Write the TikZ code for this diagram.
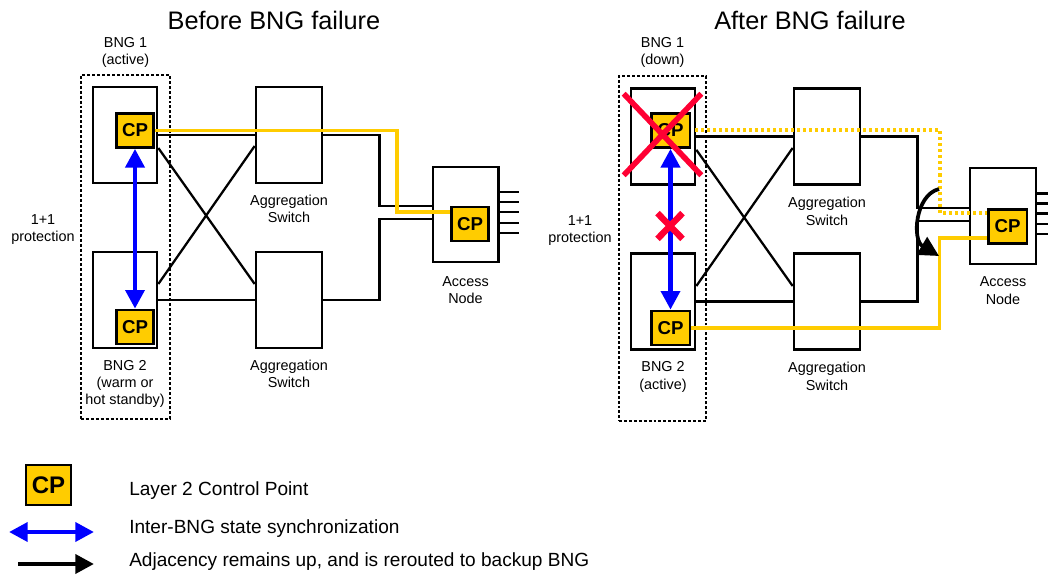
\documentclass[tikz,border=0pt]{standalone}
\usepackage{fontspec}
\setmainfont{Liberation Sans}
\usetikzlibrary{arrows.meta, positioning, shapes.misc}

\begin{document}
\begin{tikzpicture}[
      x=0.75pt, y=-0.75pt,
      node distance=8pt,
      box/.style={draw, line width=2pt, fill=white, inner sep=0pt},
      bng/.style={box, minimum width=48pt, minimum height=72pt},
      agg/.style={box, minimum width=49.5pt, minimum height=72pt},
      cp/.style={draw, line width=2pt, fill=cpyellow, inner sep=0pt, minimum width=27.75pt,
                 minimum height=25.5pt, font=\fontsize{14}{16}\selectfont\bfseries},
      group/.style={draw, line width=2.2pt, dash pattern=on 2.2pt off 1.5pt, inner sep=0pt},
      lbl/.style={inner sep=0pt, align=center, font=\fontsize{10.8}{12.8}\selectfont},
      rlbl/.style={lbl, font=\fontsize{10.8}{13.5}\selectfont},
      title/.style={inner sep=0pt, font=\fontsize{19}{22}\selectfont},
      legtext/.style={inner sep=0pt, anchor=west, font=\fontsize{14.3}{17}\selectfont},
      link/.style={line width=2pt},
      thin link/.style={line width=1.7pt},
      sync/.style={draw=syncblue, line width=3.4pt, {Triangle[length=14pt, width=14pt]}-{Triangle[length=14pt, width=14pt]}},
      cpline/.style={draw=cpyellow, line width=2.5pt},
      cpdots/.style={cpline, line width=3pt, dash pattern=on 2.25pt off 2.25pt},
      kill/.style={cross out, draw=killred, inner sep=0pt}
    ]
    \definecolor{cpyellow}{HTML}{FFCC00}
    \definecolor{syncblue}{HTML}{0000FF}
    \definecolor{killred}{HTML}{FF0033}
    \useasboundingbox (0,0) rectangle (1048,574);

    \node[title] (tbefore) at (274,20) {Before BNG failure};
    \node[group, minimum width=66.75pt, minimum height=258pt] (grp) at (125.5,247) {};
    \node[bng] (bnga) at (125,135) {};
    \node[bng] (bngb) at (125,300) {};
    \node[agg] (agga) at (289,135) {};
    \node[agg] (aggb) at (289,300) {};
    \node[bng, minimum width=49pt, minimum height=71.25pt] (acc) at (465.5,214.5) {};
    \draw[link] (bnga.east) -- (agga.west);
    \draw[link] (bngb.east) -- (aggb.west);
    \draw[thin link] ([yshift=-9.75pt]bnga.east) -- ([yshift=12pt]aggb.west);
    \draw[thin link] ([yshift=12pt]bngb.east) -- ([yshift=-8.25pt]agga.west);
    \draw[link] (agga.east) -- ++(56,0) |- ([yshift=6.4pt]acc.west);
    \draw[link] (aggb.east) -- ++(56,0) |- ([yshift=-3.4pt]acc.west);
    \foreach \dy in {16.9,9.4,1.9,-6.4,-13.9}
      \draw[link] ([yshift=\dy pt]acc.east) -- ++(19,0);
    \node[cp] (cpa) at (135,130.5) {CP};
    \node[cp] (cpb) at (135,327) {CP};
    \node[cp] (cpc) at (470,224) {CP};
    \draw[cpline] (cpa.east) -- ++(242,0) |- ([yshift=9pt]cpc.west);
    \draw[sync] (cpa) -- (cpb);
    \node[lbl, above=4.5pt of grp] (lbnga) {BNG 1\\(active)};
    \node[lbl, below=8pt of bngb] (lbngb) {BNG 2\\(warm or\\hot standby)};
    \node[lbl, below=of agga] (lagga) {Aggregation\\Switch};
    \node[lbl, below=of aggb] (laggb) {Aggregation\\Switch};
    \node[lbl, below=9.5pt of acc] (lacc) {Access\\Node};
    \node[lbl] (lprot) at (43,230) {1+1\\protection};

    \node[title] (tafter) at (810,20) {After BNG failure};
    \node[group, minimum width=65.25pt, minimum height=258.75pt] (rgrp) at (662.5,248.5) {};
    \node[bng] (rbnga) at (663,136.5) {};
    \node[bng] (rbngb) at (663,301.5) {};
    \node[agg] (ragga) at (827,136.5) {};
    \node[agg] (raggb) at (827,301.5) {};
    \node[bng, minimum width=49.5pt, minimum height=72pt] (racc) at (1003,216) {};
    \draw[link] (rbnga.east) -- (ragga.west);
    \draw[link] (rbngb.east) -- (raggb.west);
    \draw[thin link] ([yshift=-10pt]rbnga.east) -- ([yshift=11.6pt]raggb.west);
    \draw[thin link] ([yshift=11.6pt]rbngb.east) -- ([yshift=-8.6pt]ragga.west);
    \draw[link] (ragga.east) -- ++(56,0) |- ([yshift=6pt]racc.west);
    \draw[link] (raggb.east) -- ++(56,0) |- ([yshift=-3.75pt]racc.west);
    \foreach \dy in {17,9.5,2,-6,-13.5}
      \draw[link] ([yshift=\dy pt]racc.east) -- ++(12,0);
    \node[cp, minimum width=29pt] (rcpa) at (670.5,130.5) {CP};
    \node[cp, minimum width=29pt] (rcpb) at (670.5,328) {CP};
    \node[cp, minimum width=29pt] (rcpc) at (1007.5,226.5) {CP};
    \draw[cpdots] ([xshift=3pt]rcpa.east) -- ++(245,0) |- ([yshift=10.5pt]rcpc.west);
    \draw[cpline] (rcpb.east) -- ++(248,0) |- ([yshift=-8.6pt]rcpc.west);
    \draw[sync] (rcpa) -- (rcpb);
    \node[kill, line width=4.2pt, minimum width=54pt, minimum height=57pt] (xbng) at (662.5,134.5) {};
    \node[kill, line width=4.8pt, minimum width=14pt, minimum height=14.5pt] (xsync) at (670,226) {};
    \coordinate (swfrom) at (939,189);
    \coordinate (swto) at (939,256);
    \draw[line width=2.8pt, -{Triangle[length=15pt, width=15pt]}] (swfrom) .. controls (915,195) and (912,240) .. (swto);
    \node[lbl, above=of rgrp, yshift=-3pt] (rlbnga) {BNG 1\\(down)};
    \node[rlbl, below=of rbngb] (rlbngb) {BNG 2\\(active)};
    \node[rlbl, below=of ragga] (rlagga) {Aggregation\\Switch};
    \node[rlbl, below=of raggb] (rlaggb) {Aggregation\\Switch};
    \node[rlbl, below=of racc] (rlacc) {Access\\Node};
    \node[lbl] (rlprot) at (580,231) {1+1\\protection};

    \node[cp, minimum width=33.75pt, minimum height=30pt, font=\fontsize{18}{20}\selectfont\bfseries] (lcp) at (48.5,485) {CP};
    \coordinate (syncl) at (9,532);
    \coordinate (syncr) at (94,532);
    \coordinate (adjl) at (18,564);
    \coordinate (adjr) at (94,564);
    \draw[sync] (syncl) -- (syncr);
    \draw[line width=3.4pt, -{Triangle[length=14pt, width=14pt]}] (adjl) -- (adjr);
    \node[legtext] (lega) at (129,491) {Layer 2 Control Point};
    \node[legtext] (legb) at (129,529) {Inter-BNG state synchronization};
    \node[legtext] (legc) at (129,562) {Adjacency remains up, and is rerouted to backup BNG};
  \end{tikzpicture}
\end{document}
